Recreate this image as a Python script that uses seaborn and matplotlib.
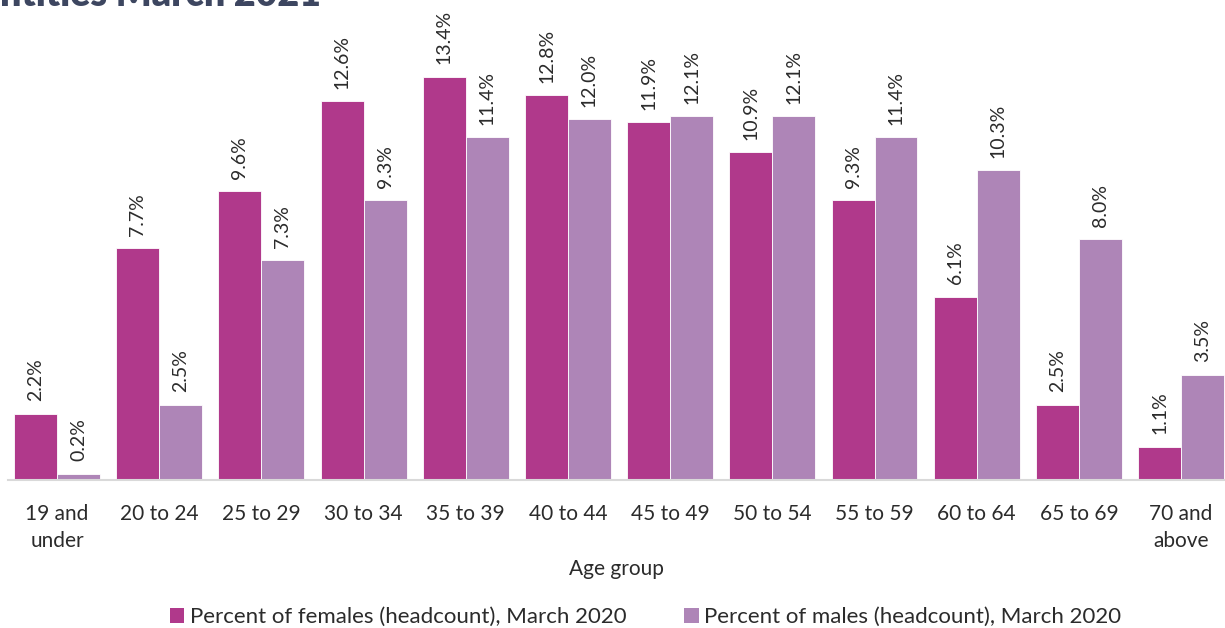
import matplotlib
matplotlib.use("Agg")
import matplotlib.pyplot as plt
import seaborn as sns
import pandas as pd
from matplotlib.patches import Patch

age_groups = ["19 and\nunder", "20 to 24", "25 to 29", "30 to 34", "35 to 39", "40 to 44",
              "45 to 49", "50 to 54", "55 to 59", "60 to 64", "65 to 69", "70 and\nabove"]
female_pct = [2.2, 7.7, 9.6, 12.6, 13.4, 12.8, 11.9, 10.9, 9.3, 6.1, 2.5, 1.1]
male_pct = [0.2, 2.5, 7.3, 9.3, 11.4, 12.0, 12.1, 12.1, 11.4, 10.3, 8.0, 3.5]
series_names = ["Percent of females (headcount), March 2020",
                "Percent of males (headcount), March 2020"]
colors = ["#B0398B", "#AE85B7"]

df = pd.DataFrame({
    "Age group": age_groups * 2,
    "Percent": female_pct + male_pct,
    "Series": [series_names[0]] * len(age_groups) + [series_names[1]] * len(age_groups),
})

sns.set_theme(style="white")
plt.rcParams["font.family"] = ["Lato", "DejaVu Sans"]
text_color = "#2b2b2b"

fig = plt.figure(figsize=(12.25, 6.28), dpi=100)
ax = fig.add_axes([8 / 1225, 148 / 628, 1 - 8 / 1225, 480 / 628])

sns.barplot(data=df, x="Age group", y="Percent", hue="Series", palette=colors,
            width=0.84, dodge=True, ax=ax, legend=False, saturation=1,
            edgecolor="white", linewidth=0.6)

for container in ax.containers:
    ax.bar_label(container, labels=[f"{v:.1f}%" for v in container.datavalues],
                 rotation=90, padding=9, fontsize=14, color=text_color)

ax.set_ylim(0, 15.96)
ax.set_xlim(-0.48, 11.43)
ax.set_yticks([])
ax.set_ylabel("")
for side in ["top", "right", "left"]:
    ax.spines[side].set_visible(False)
ax.spines["bottom"].set_color("#d9d9d9")
ax.spines["bottom"].set_linewidth(1.5)
ax.tick_params(axis="x", length=0, pad=17, labelsize=15, colors=text_color)
for lbl in ax.get_xticklabels():
    lbl.set_linespacing(1.45)
ax.set_xlabel("Age group", fontsize=15, color=text_color, labelpad=6)

handles = [Patch(facecolor=c, edgecolor="none") for c in colors]
fig.legend(handles, series_names, loc="center", bbox_to_anchor=(0.527, 0.017),
           ncol=2, frameon=False, fontsize=16, handlelength=0.65, handleheight=0.65,
           handletextpad=0.25, columnspacing=2.6, labelcolor=text_color)

fig.text(0.0, 1.008, "ntities March 2021", fontsize=27, fontweight="heavy",
         color="#3d4660", va="center", ha="left")

fig.savefig("out.png", dpi=100)
